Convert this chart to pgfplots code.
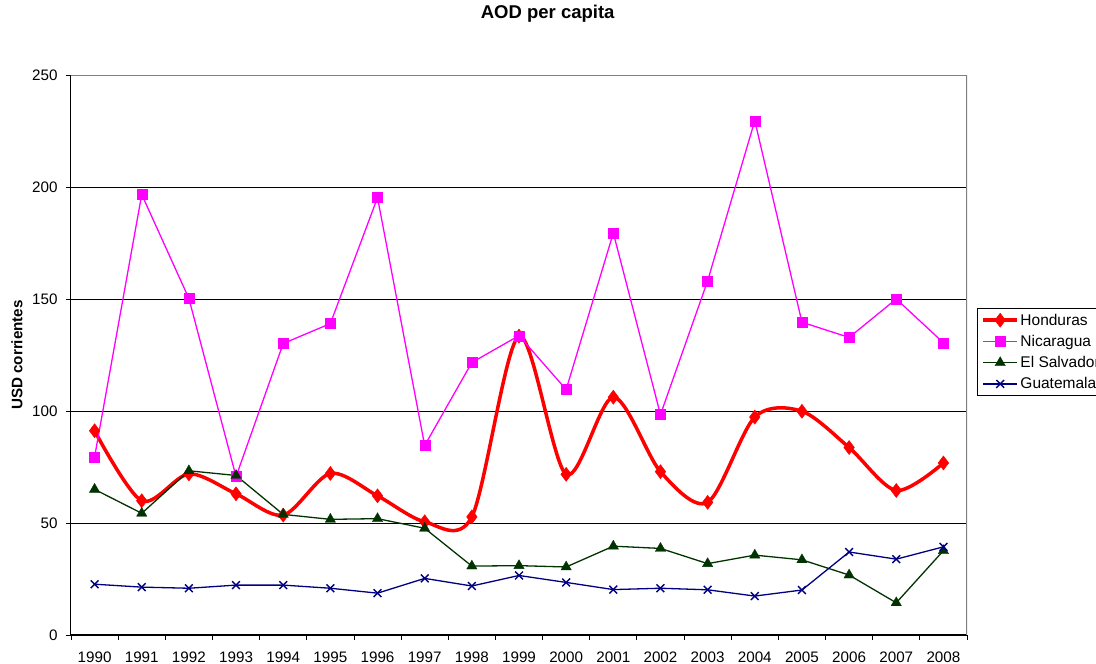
\documentclass[border=0pt]{standalone}
\usepackage{fontspec}
\setmainfont{Liberation Sans}
\usepackage{pgfplots}
\pgfplotsset{compat=1.18}
\definecolor{hond}{HTML}{FF0000}
\definecolor{nica}{HTML}{FF00FF}
\definecolor{salv}{HTML}{003300}
\definecolor{guat}{HTML}{000080}
\begin{document}
\begin{tikzpicture}
\begin{axis}[
  at={(71pt,29pt)}, anchor=south west,
  width=896pt, height=559.3pt, scale only axis,
  xmin=-0.5, xmax=18.5, ymin=0, ymax=250,
  axis lines=left, axis line style={-, black, line width=1pt},
  xtick={-0.5,0.5,...,18.5},
  xticklabels={1990,1991,1992,1993,1994,1995,1996,1997,1998,1999,2000,2001,2002,2003,2004,2005,2006,2007,2008,{}},
  xticklabel style={xshift=23.58pt, yshift=-8pt},
  ytick={0,50,...,250},
  yticklabel style={xshift=-5pt},
  tick label style={font=\fontsize{15.2}{18}\selectfont},
  /pgf/number format/assume math mode=true,
  tick align=outside, major tick length=5pt,
  tick style={black, line width=0.8pt},
  ymajorgrids, grid style={black, line width=0.8pt},
  title={AOD per capita},
  title style={font=\bfseries\fontsize{18.5}{22}\selectfont, at={(0.532,1.0996)}, anchor=center},
  ylabel={USD corrientes},
  ylabel style={font=\bfseries\fontsize{15.2}{18}\selectfont, at={(-0.0603,0.5006)}, anchor=center},
  legend style={at={(1.0112,0.5847)}, anchor=north west, draw=black, line width=0.8pt,
    font=\fontsize{15.5}{18}\selectfont, row sep=5.5pt, inner xsep=4pt, inner ysep=4pt,
    nodes={inner sep=1.5pt}},
  legend cell align=left,
  legend image code/.code={\draw[mark repeat=2,mark phase=2] plot coordinates {(0pt,0pt) (17pt,0pt) (34pt,0pt)};},
]
\addplot[hond, line width=3.5pt, smooth, mark=diamond*, mark size=7pt, mark options={solid, line width=0.5pt}] coordinates {
(0,91.3) (1,60.0) (2,72.0) (3,63.1) (4,53.6) (5,72.2) (6,62.2) (7,50.6) (8,52.8) (9,133.6)
(10,71.8) (11,106.3) (12,73.0) (13,59.3) (14,97.4) (15,100.0) (16,83.8) (17,64.6) (18,76.9)};
\addlegendentry{Honduras}
\addplot[nica, line width=1.3pt, mark=square*, mark size=5pt, mark options={solid, line width=0.3pt}] coordinates {
(0,79.6) (1,196.9) (2,150.4) (3,70.8) (4,130.3) (5,139.2) (6,195.5) (7,84.7) (8,121.8) (9,133.8)
(10,109.7) (11,179.7) (12,98.5) (13,158.3) (14,229.9) (15,139.8) (16,133.0) (17,150.2) (18,130.6)};
\addlegendentry{Nicaragua}
\addplot[salv, line width=1.3pt, mark=triangle*, mark size=6pt, mark options={solid, line width=0.3pt}] coordinates {
(0,65.1) (1,54.4) (2,73.4) (3,71.3) (4,53.9) (5,51.7) (6,52.0) (7,47.7) (8,30.8) (9,31.0)
(10,30.4) (11,39.7) (12,38.7) (13,31.9) (14,35.7) (15,33.6) (16,26.8) (17,14.4) (18,37.7)};
\addlegendentry{El Salvador}
\addplot[guat, line width=1.3pt, mark=x, mark size=5.5pt, mark options={solid, line width=1.4pt}] coordinates {
(0,22.7) (1,21.4) (2,20.9) (3,22.3) (4,22.3) (5,20.9) (6,18.7) (7,25.3) (8,21.9) (9,26.6)
(10,23.5) (11,20.3) (12,20.9) (13,20.2) (14,17.4) (15,20.1) (16,37.1) (17,33.9) (18,39.4)};
\addlegendentry{Guatemala}
\draw[gray, line width=1.2pt] (rel axis cs:0,1) -- (rel axis cs:1,1) -- (rel axis cs:1,0);
\end{axis}
\pgfresetboundingbox
\path[use as bounding box] (0,0) rectangle (1096pt,664pt);
\end{tikzpicture}
\end{document}
